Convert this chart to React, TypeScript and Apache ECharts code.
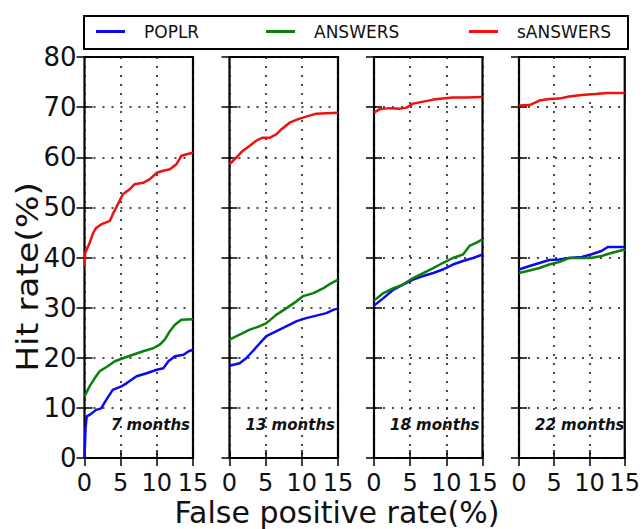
import React, { useEffect, useRef } from "react";
import * as echarts from "echarts";

const seriesNames = ["POPLR", "ANSWERS", "sANSWERS"];
const seriesColors = ["#0a0af0", "#0a800a", "#f01010"];
const panelLabels = ["7 months", "13 months", "18 months", "22 months"];
const xTicks = [0, 5, 10, 15];
const yTicks = [0, 10, 20, 30, 40, 50, 60, 70, 80];

// panel 1: 7 months
const poplr7 = [[0, 0], [0.15, 6], [0.3, 8.3], [0.7, 8.6], [1.6, 9.6], [2.3, 9.9], [3.0, 11.6], [3.9, 13.6], [5.1, 14.3], [5.8, 14.9], [7.2, 16.3], [8.6, 16.9], [10, 17.6], [10.9, 17.9], [11.6, 19.3], [12.5, 20.3], [13.7, 20.6], [14.4, 21.3], [15, 21.6]];
const answers7 = [[0, 12.3], [0.7, 14.3], [1.4, 15.9], [2.1, 17.3], [3.2, 18.3], [4.2, 19.3], [5.3, 19.9], [6.7, 20.6], [8.1, 21.3], [9.5, 21.9], [10.4, 22.6], [11.1, 23.6], [11.8, 25.3], [12.5, 26.6], [13.4, 27.6], [15, 27.7]];
const sanswers7 = [[0, 38.3], [0.1, 40.9], [0.7, 42.9], [1.2, 44.9], [1.6, 45.9], [2.3, 46.6], [3.5, 47.3], [3.9, 48.6], [4.6, 50.6], [5.3, 52.6], [6.25, 53.6], [6.9, 54.6], [8.1, 54.9], [9.0, 55.6], [10, 56.9], [10.9, 57.3], [11.8, 57.6], [12.7, 58.6], [13.4, 60.3], [14.4, 60.7], [15, 60.9]];

// panel 2: 13 months
const poplr13 = [[0, 18.4], [1.4, 18.9], [2.3, 19.9], [3.2, 21.3], [4.2, 22.9], [5.1, 24.3], [6.5, 25.3], [7.9, 26.3], [9.3, 27.3], [10.6, 27.9], [12, 28.4], [13.4, 28.9], [14.4, 29.6], [15, 29.8]];
const answers13 = [[0, 23.6], [1.4, 24.6], [2.8, 25.6], [4.2, 26.3], [5.1, 26.9], [6.5, 28.6], [7.9, 29.9], [9.3, 31.3], [10.2, 32.3], [11.6, 32.9], [13, 33.9], [14.1, 34.9], [15, 35.6]];
const sanswers13 = [[0, 58.6], [0.9, 59.9], [1.85, 61.3], [2.8, 62.3], [3.7, 63.3], [4.6, 63.9], [5.6, 63.9], [6.5, 64.6], [7.2, 65.6], [8.3, 66.9], [9.5, 67.6], [10.6, 68.1], [12, 68.7], [13.4, 68.8], [15, 68.9]];

// panel 3: 18 months
const poplr18 = [[0, 30.4], [1.3, 31.9], [2.7, 33.6], [4.0, 34.6], [5.4, 35.6], [6.8, 36.3], [8.2, 36.9], [9.5, 37.6], [10.9, 38.6], [12.3, 39.3], [13.7, 39.9], [15, 40.6]];
const answers18 = [[0, 31.4], [1.3, 32.9], [2.7, 33.9], [4.0, 34.6], [5.4, 35.9], [6.8, 36.9], [8.2, 37.9], [9.5, 38.9], [10.9, 39.9], [12.3, 40.6], [13.2, 42.3], [14.1, 42.9], [15, 43.6]];
const sanswers18 = [[0, 68.9], [0.8, 69.6], [2.2, 69.8], [3.6, 69.7], [4.5, 69.9], [5.4, 70.7], [6.8, 71.1], [8.2, 71.5], [9.5, 71.7], [10.9, 71.9], [12.8, 71.9], [15, 72.0]];

// panel 4: 22 months
const poplr22 = [[0, 37.6], [1.5, 38.3], [2.9, 38.9], [4.3, 39.5], [5.7, 39.6], [7.1, 39.9], [8.9, 40.1], [10.2, 40.6], [11.7, 41.3], [12.6, 42.1], [15, 42.1]];
const answers22 = [[0, 36.9], [1.5, 37.4], [2.9, 37.9], [4.3, 38.6], [5.7, 39.1], [7.1, 39.9], [8.9, 39.9], [10.2, 39.9], [11.7, 40.3], [13.1, 40.9], [15, 41.6]];
const sanswers22 = [[0, 70.3], [1.5, 70.4], [2.9, 71.3], [4.3, 71.6], [5.7, 71.7], [7.1, 72.1], [8.9, 72.4], [10.8, 72.6], [12.6, 72.8], [15, 72.8]];

const panelData = [
  [poplr7, answers7, sanswers7],
  [poplr13, answers13, sanswers13],
  [poplr18, answers18, sanswers18],
  [poplr22, answers22, sanswers22],
];

const FONT = "DejaVu Sans";
const PANEL_LEFTS = [84.5, 229.5, 374, 519];
const PANEL_W = 108.5;
const PANEL_TOP = 57;
const PANEL_H = 401;
const dotted = [2, 7];

export default function App() {
  const ref = useRef<HTMLDivElement>(null);
  useEffect(() => {
    if (!ref.current) return;
    const chart = echarts.init(ref.current, null, { renderer: "svg" });
    const grid: any[] = [];
    const xAxis: any[] = [];
    const yAxis: any[] = [];
    const series: any[] = [];
    const graphic: any[] = [];
    PANEL_LEFTS.forEach((left, i) => {
      grid.push({
        left,
        top: PANEL_TOP,
        width: PANEL_W,
        height: PANEL_H,
        show: true,
        borderColor: "#000",
        borderWidth: 2.2,
        backgroundColor: "#fff",
      });
      const xBase = {
        type: "value",
        gridIndex: i,
        min: 0,
        max: 15,
        interval: 5,
        axisLine: { show: false },
        axisTick: { show: true, inside: true, length: 8, lineStyle: { color: "#000", width: 1.5 } },
      };
      xAxis.push({
        ...xBase,
        position: "bottom",
        axisLabel: {
          show: true,
          color: "#111",
          fontFamily: FONT,
          fontSize: 24,
          margin: 13,
          formatter: (v: number) => (xTicks.includes(v) ? String(v) : ""),
        },
        splitLine: { show: true, lineStyle: { color: "#111", width: 1.5, type: dotted } },
      });
      xAxis.push({
        ...xBase,
        position: "top",
        axisLabel: { show: false },
        splitLine: { show: false },
      });
      const yBase = {
        type: "value",
        gridIndex: i,
        min: 0,
        max: 80,
        interval: 10,
        axisLine: { show: false },
        axisTick: { show: true, inside: true, length: 8, lineStyle: { color: "#000", width: 1.5 } },
      };
      yAxis.push({
        ...yBase,
        position: "left",
        axisLabel: {
          show: i === 0,
          color: "#111",
          fontFamily: FONT,
          fontSize: 26,
          margin: 8,
          formatter: (v: number) => (yTicks.includes(v) ? String(v) : ""),
        },
        splitLine: { show: true, lineStyle: { color: "#111", width: 1.5, type: dotted } },
      });
      yAxis.push({
        ...yBase,
        position: "right",
        axisLabel: { show: false },
        splitLine: { show: false },
      });
      panelData[i].forEach((d, s) => {
        series.push({
          type: "line",
          name: seriesNames[s],
          xAxisIndex: 2 * i,
          yAxisIndex: 2 * i,
          data: d,
          showSymbol: false,
          symbol: "none",
          lineStyle: { color: seriesColors[s], width: 2.5 },
          itemStyle: { color: seriesColors[s] },
          z: 3,
        });
      });
      graphic.push({
        type: "text",
        x: left + PANEL_W - 3,
        y: 425,
        z: 10,
        style: {
          text: panelLabels[i],
          textAlign: "right",
          textVerticalAlign: "middle",
          fontFamily: FONT,
          fontSize: 15,
          fontStyle: "italic",
          fontWeight: "bold",
          fill: "#111",
        },
      });
    });

    // legend frame
    graphic.push({
      type: "rect",
      shape: { x: 84, y: 16, width: 544, height: 33 },
      style: { fill: "#fff", stroke: "#000", lineWidth: 2 },
      z: 0,
    });
    graphic.push({
      type: "text",
      x: 28,
      y: 277,
      rotation: Math.PI / 2,
      scaleX: 1.15,
      style: {
        text: "Hit rate(%)",
        textAlign: "center",
        textVerticalAlign: "middle",
        fontFamily: FONT,
        fontSize: 30,
        fill: "#111",
      },
    });
    graphic.push({
      type: "text",
      x: 337,
      y: 512,
      style: {
        text: "False positive rate(%)",
        textAlign: "center",
        textVerticalAlign: "middle",
        fontFamily: FONT,
        fontSize: 30,
        fill: "#111",
      },
    });

    const legendLefts = [96, 266, 469];
    const legend = seriesNames.map((n, k) => ({
      data: [n],
      left: legendLefts[k],
      top: 23,
      padding: 0,
      icon: "rect",
      itemWidth: 29,
      itemHeight: 3,
      selectedMode: false,
      z: 5,
      textStyle: { fontFamily: FONT, fontSize: 17, color: "#111", padding: [0, 0, 0, 14] },
    }));

    chart.setOption({
      animation: false,
      backgroundColor: "#fff",
      grid,
      xAxis,
      yAxis,
      series,
      legend,
      graphic,
    });
    return () => chart.dispose();
  }, []);
  return (
    <div
      ref={ref}
      style={{ position: "fixed", left: 0, top: 0, width: 643, height: 529, background: "#fff" }}
    />
  );
}
